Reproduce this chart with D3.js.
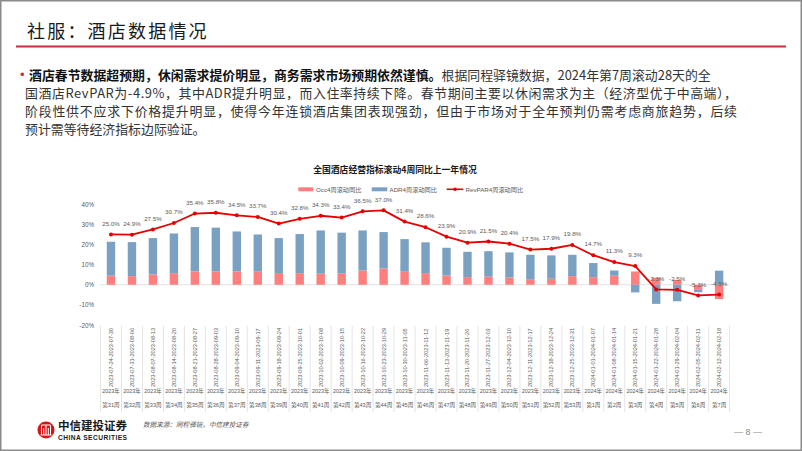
<!DOCTYPE html>
<html><head><meta charset="utf-8">
<script src="https://cdn.jsdelivr.net/npm/d3@7/dist/d3.min.js"></script>
<style>
html,body{margin:0;padding:0;background:#fff;}
svg{display:block;}
text{font-family:"Liberation Sans","Noto Sans CJK SC",sans-serif;}
.cjk{font-family:"Noto Sans CJK SC",sans-serif;}
</style></head>
<body>
<svg id="c" width="802" height="451"></svg>
<script>
const dates = ["2023-07-24-2023-07-30","2023-07-31-2023-08-06","2023-08-07-2023-08-13","2023-08-14-2023-08-20","2023-08-21-2023-08-27","2023-08-28-2023-09-03","2023-09-04-2023-09-10","2023-09-11-2023-09-17","2023-09-18-2023-09-24","2023-09-25-2023-10-01","2023-10-02-2023-10-08","2023-10-09-2023-10-15","2023-10-16-2023-10-22","2023-10-23-2023-10-29","2023-10-30-2023-11-05","2023-11-06-2023-11-12","2023-11-13-2023-11-19","2023-11-20-2023-11-26","2023-11-27-2023-12-03","2023-12-04-2023-12-10","2023-12-11-2023-12-17","2023-12-18-2023-12-24","2023-12-25-2023-12-31","2024-01-01-2024-01-07","2024-01-08-2024-01-14","2024-01-15-2024-01-21","2024-01-22-2024-01-28","2024-01-29-2024-02-04","2024-02-05-2024-02-11","2024-02-12-2024-02-18"];
const years = ["2023年","2023年","2023年","2023年","2023年","2023年","2023年","2023年","2023年","2023年","2023年","2023年","2023年","2023年","2023年","2023年","2023年","2023年","2023年","2023年","2023年","2023年","2023年","2024年","2024年","2024年","2024年","2024年","2024年","2024年"];
const weeks = ["第31周","第32周","第33周","第34周","第35周","第36周","第37周","第38周","第39周","第40周","第41周","第42周","第43周","第44周","第45周","第46周","第47周","第48周","第49周","第50周","第51周","第52周","第53周","第1周","第2周","第3周","第4周","第5周","第6周","第7周"];
const occ = [4.5,4.3,5.1,5.8,6.6,6.6,6.6,6.5,5.8,5.8,5.5,5.5,7.1,8.1,6.5,5.8,4.6,3.8,4.0,3.6,2.5,3.0,4.3,3.8,4.5,6.6,3.5,2.5,-2.2,-7.1];
const adr = [16.9,16.9,18.1,19.7,22.1,21.8,19.9,18.5,17.4,19.4,21.5,20.4,19.9,18.1,16.2,15.3,13.8,12.6,12.7,12.5,12.4,11.6,10.6,7.0,2.6,-3.8,-9.5,-8.2,-1.5,7.0];
const revpar = [25.0,24.9,27.5,30.7,35.4,35.8,34.5,33.7,30.4,32.8,34.3,33.4,36.5,37.0,31.4,28.6,23.9,20.9,21.5,20.4,17.5,17.9,19.8,14.7,11.3,9.3,-2.3,-2.5,-5.3,-4.9];
const yTicks = [-20,-10,0,10,20,30,40];
const seriesNames = ["Occ4周滚动同比","ADR4周滚动同比","RevPAR4周滚动同比"];
const pageTitle = "社服：酒店数据情况";
const chartTitle = "全国酒店经营指标滚动4周同比上一年情况";
const paraBold = "酒店春节数据超预期，休闲需求提价明显，商务需求市场预期依然谨慎。";
const paraLines = ["根据同程驿镜数据，2024年第7周滚动28天的全",
 "国酒店RevPAR为-4.9%，其中ADR提升明显，而入住率持续下降。春节期间主要以休闲需求为主（经济型优于中高端），",
 "阶段性供不应求下价格提升明显，使得今年连锁酒店集团表现强劲，但由于市场对于全年预判仍需考虑商旅趋势，后续",
 "预计需等待经济指标边际验证。"];

const svg = d3.select("#c");
const C_OCC = "#FF7F7F", C_ADR = "#7BA1C2", C_REV = "#E60000", C_TXT = "#595959";

// frame
svg.append("rect").attr("x",0.75).attr("y",0.75).attr("width",800.5).attr("height",449.5)
  .attr("fill","none").attr("stroke","#8a8a8a").attr("stroke-width",1.5);

// page title
svg.append("text").attr("class","cjk").attr("x",27).attr("y",38).attr("font-size",18)
  .attr("letter-spacing",2.2).attr("fill","#1a1a1a").text(pageTitle);
svg.append("line").attr("x1",16).attr("x2",786).attr("y1",46.5).attr("y2",46.5)
  .attr("stroke","#C0303F").attr("stroke-width",2);

// paragraph (justified lines)
svg.append("text").attr("x",20).attr("y",79).attr("fill","#C0303F").attr("font-size",13).text("•");
const p1 = svg.append("text").attr("class","cjk").attr("x",29).attr("y",79.5).attr("font-size",12.9);
p1.append("tspan").attr("font-weight","bold").attr("fill","#111").text(paraBold);
p1.append("tspan").attr("fill","#333").text(paraLines[0]);
[1,2,3].forEach((i)=>{
  const t = svg.append("text").attr("class","cjk").attr("x",25).attr("y",79.5+18.2*i).attr("font-size",12.9)
   .attr("fill","#333").text(paraLines[i]);
  if(i<3) t.attr("textLength",712).attr("lengthAdjust","spacing");
});

// chart
const x = d3.scaleBand().domain(d3.range(dates.length)).range([100.5,729.6]).paddingInner(0).paddingOuter(0);
const y = d3.scaleLinear().domain([-20,40]).range([325,204.3]);
const bw = 8.4;

svg.append("text").attr("class","cjk").attr("x",395).attr("y",173).attr("text-anchor","middle")
  .attr("font-size",8.8).attr("font-weight","bold").attr("fill","#1a1a1a").text(chartTitle);

// legend
const lg = svg.append("g").attr("font-size",6.2).attr("fill",C_TXT);
lg.append("rect").attr("x",298.3).attr("y",187.3).attr("width",15).attr("height",4).attr("fill",C_OCC);
lg.append("text").attr("x",316).attr("y",191.5).text(seriesNames[0]);
lg.append("rect").attr("x",371.7).attr("y",187.3).attr("width",15.6).attr("height",4).attr("fill",C_ADR);
lg.append("text").attr("x",389.5).attr("y",191.5).text(seriesNames[1]);
lg.append("line").attr("x1",446.7).attr("x2",463.3).attr("y1",189.3).attr("y2",189.3).attr("stroke",C_REV).attr("stroke-width",1.6);
lg.append("circle").attr("cx",455).attr("cy",189.3).attr("r",1.8).attr("fill",C_REV);
lg.append("text").attr("x",465.5).attr("y",191.5).text(seriesNames[2]);

// y axis labels
const ya = d3.axisLeft(y).tickValues(yTicks).tickFormat(d=>d+"%").tickSize(0).tickPadding(0);
const yg = svg.append("g").attr("transform","translate(94,0)").call(ya);
yg.select(".domain").remove();
yg.selectAll("text").attr("font-size",6.3).attr("fill",C_TXT).attr("font-family","Liberation Sans, sans-serif");

// zero line
svg.append("line").attr("x1",100.5).attr("x2",729.6).attr("y1",y(0)).attr("y2",y(0)).attr("stroke","#D9D9D9").attr("stroke-width",0.8);

// bars stacked
const stacks = dates.map((d,i)=>{
  let pos=0, neg=0; const out=[];
  [[occ[i],C_OCC],[adr[i],C_ADR]].forEach(([v,c])=>{
    if(v>=0){ out.push({y0:pos,y1:pos+v,c}); pos+=v; }
    else { out.push({y0:neg,y1:neg+v,c}); neg+=v; }
  });
  return out.map(o=>Object.assign(o,{i}));
});
svg.append("g").selectAll("rect").data(stacks.flat()).join("rect")
  .attr("x",d=>x(d.i)+x.bandwidth()/2-bw/2).attr("width",bw)
  .attr("y",d=>y(Math.max(d.y0,d.y1))).attr("height",d=>Math.abs(y(d.y0)-y(d.y1)))
  .attr("fill",d=>d.c);

// line
const cx = i=>x(i)+x.bandwidth()/2;
svg.append("path").datum(revpar).attr("fill","none").attr("stroke",C_REV).attr("stroke-width",1.8)
  .attr("stroke-linejoin","round")
  .attr("d",d3.line().x((d,i)=>cx(i)).y(d=>y(d)));
svg.append("g").selectAll("circle").data(revpar).join("circle")
  .attr("cx",(d,i)=>cx(i)).attr("cy",d=>y(d)).attr("r",2).attr("fill",C_REV);
svg.append("g").selectAll("text").data(revpar).join("text")
  .attr("x",(d,i)=>cx(i)).attr("y",d=>y(d)-8.8).attr("text-anchor","middle")
  .attr("font-size",6.2).attr("fill",C_TXT).text(d=>d.toFixed(1)+"%");

// category axis (multi-level)
const bounds = d3.range(dates.length+1).map(i=> i<dates.length ? x(i) : x(dates.length-1)+x.bandwidth());
svg.append("g").selectAll("line").data(bounds).join("line")
  .attr("x1",d=>d).attr("x2",d=>d).attr("y1",326).attr("y2",412)
  .attr("stroke","#D9D9D9").attr("stroke-width",0.7);
svg.append("g").selectAll("text").data(dates).join("text")
  .attr("transform",(d,i)=>`translate(${cx(i)+2},387) rotate(-90)`)
  .attr("font-size",5.6).attr("fill",C_TXT).text(d=>d);
svg.append("g").selectAll("text").data(years).join("text")
  .attr("x",(d,i)=>cx(i)).attr("y",393).attr("text-anchor","middle")
  .attr("font-size",5.4).attr("fill",C_TXT).text(d=>d);
svg.append("g").selectAll("text").data(weeks).join("text")
  .attr("x",(d,i)=>cx(i)).attr("y",406.5).attr("text-anchor","middle")
  .attr("font-size",5.6).attr("fill",C_TXT).text(d=>d);

// footer logo
const lgo = svg.append("g");
lgo.append("circle").attr("cx",46).attr("cy",430).attr("r",8.5).attr("fill","#D7141A");
lgo.append("path").attr("d","M41.5,425 h9 M41.5,425 v10 M50.5,425 v10 M46,425 v10 M43.7,428 v7 M48.3,428 v7 M40.5,435 h11")
  .attr("stroke","#fff").attr("stroke-width",1).attr("fill","none");
lgo.append("text").attr("class","cjk").attr("x",58).attr("y",430).attr("font-size",11.5).attr("font-weight","bold").attr("fill","#1a1a1a").text("中信建投证券");
lgo.append("text").attr("x",58).attr("y",439.5).attr("font-size",6.6).attr("font-weight","bold").attr("fill","#1a1a1a").attr("textLength",69).text("CHINA SECURITIES");
svg.append("text").attr("class","cjk").attr("x",143).attr("y",427).attr("font-size",6.6).attr("font-style","italic")
  .attr("fill","#555").text("数据来源：同程驿镜，中信建投证券");
svg.append("text").attr("x",748).attr("y",434.5).attr("text-anchor","middle").attr("font-size",9).attr("fill","#888").text("— 8 —");
</script>
</body></html>
